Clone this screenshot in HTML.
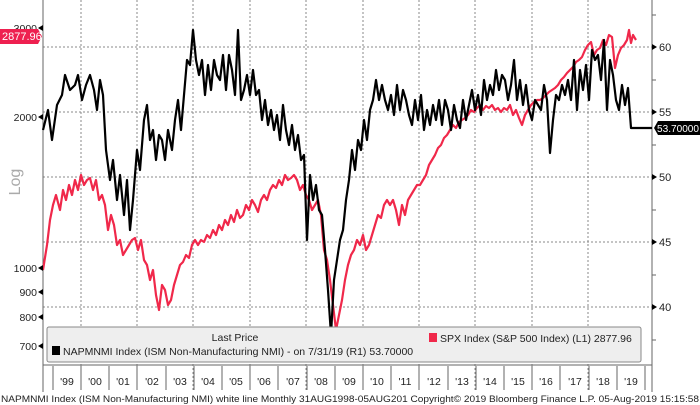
<!DOCTYPE html>
<html><head><meta charset="utf-8"><style>
body{margin:0;background:#fff;}
svg{display:block;font-family:"Liberation Sans",sans-serif;}
</style></head><body>
<svg width="700" height="405" viewBox="0 0 700 405" xmlns="http://www.w3.org/2000/svg">
<rect width="700" height="405" fill="#fff"/>
<g stroke="#888" stroke-width="1" stroke-dasharray="2,2" fill="none">
<line x1="43" y1="47" x2="652" y2="47"/><line x1="43" y1="112" x2="652" y2="112"/>
<line x1="43" y1="177" x2="652" y2="177"/><line x1="43" y1="242" x2="652" y2="242"/>
<line x1="43" y1="307" x2="652" y2="307"/>
<line x1="81" y1="0" x2="81" y2="392"/><line x1="137" y1="0" x2="137" y2="392"/>
<line x1="193" y1="0" x2="193" y2="392"/><line x1="250" y1="0" x2="250" y2="392"/>
<line x1="306" y1="0" x2="306" y2="392"/><line x1="363" y1="0" x2="363" y2="392"/>
<line x1="419" y1="0" x2="419" y2="392"/><line x1="475" y1="0" x2="475" y2="392"/>
<line x1="532" y1="0" x2="532" y2="392"/><line x1="588" y1="0" x2="588" y2="392"/>
</g>
<line x1="43" y1="0" x2="43" y2="392" stroke="#666"/>
<line x1="652" y1="0" x2="652" y2="392" stroke="#666"/>
<polyline fill="none" stroke="#f0284a" stroke-width="2.2" stroke-linejoin="round" points="43,270 47,245 50,220 53,205 56,195 60,210 63,190 66,200 69,185 72,195 75,180 78,190 81,175 84,185 87,180 90,178 93,190 96,180 99,200 102,195 105,205 108,230 111,215 114,225 117,245 120,240 123,255 126,250 129,245 132,240 135,238 138,250 141,240 144,260 147,265 150,280 153,270 156,295 159,310 162,285 165,290 168,305 171,300 174,285 177,275 180,265 183,262 186,255 189,258 192,245 195,240 198,245 201,240 204,242 207,235 210,238 213,230 216,235 219,225 222,230 225,220 228,225 231,215 234,222 237,210 240,218 243,215 246,205 249,210 252,200 255,205 258,212 261,200 264,195 267,200 270,190 273,185 276,188 279,180 282,185 285,175 288,180 291,178 294,175 297,180 300,190 303,185 306,195 309,200 312,210 315,205 318,200 321,215 324,250 327,260 330,280 333,305 336,330 339,315 342,300 345,280 348,265 351,255 354,250 357,240 360,245 363,235 366,250 369,245 372,235 375,225 378,215 381,218 384,205 387,200 390,205 393,200 396,210 399,225 402,205 405,215 408,200 411,195 414,190 417,185 420,185 423,180 426,175 429,165 432,160 435,155 438,148 441,145 444,138 447,135 450,130 453,125 456,128 459,122 462,120 465,118 468,115 471,110 474,112 477,108 480,105 483,110 486,106 489,108 492,105 495,110 498,108 501,112 504,108 507,110 510,105 513,115 516,110 519,118 522,125 525,115 528,110 531,105 534,102 537,100 540,100 543,98 546,95 549,92 552,90 555,88 558,85 561,80 564,77 567,73 570,70 573,67 576,62 579,60 582,57 585,50 588,45 591,42 594,55 597,50 600,48 603,40 606,45 609,35 612,37 615,68 618,55 621,48 624,45 627,40 629,30 631,43 633,35 636,40"/>
<polyline fill="none" stroke="#000" stroke-width="2.2" stroke-linejoin="round" points="43,130 48,110 52,140 57,105 62,95 65,75 70,90 75,85 78,75 82,100 86,85 90,75 94,90 97,110 100,80 103,95 106,150 110,180 113,160 117,200 120,175 124,215 127,180 130,230 133,200 137,150 140,170 144,120 147,105 150,140 153,130 156,160 159,135 162,140 165,160 168,130 172,150 175,120 178,100 181,130 184,95 187,60 190,65 193,30 196,60 199,75 202,60 205,95 208,65 211,90 214,60 217,75 220,80 223,55 226,90 229,55 232,70 235,95 238,30 241,100 244,90 247,75 250,95 253,70 256,95 259,90 262,120 265,100 268,125 271,110 274,130 277,115 280,140 283,105 286,130 289,145 292,125 295,150 298,135 301,160 304,155 307,240 310,175 313,200 316,185 319,210 322,215 325,250 328,290 331,335 334,280 337,260 340,240 343,230 346,200 349,180 352,150 355,170 358,140 361,150 364,120 367,140 370,110 373,100 376,80 379,100 382,85 385,100 388,110 391,95 394,115 397,85 400,110 403,90 406,100 409,115 412,125 415,100 418,120 421,95 424,130 427,110 430,125 433,105 436,120 439,100 442,125 445,100 448,110 451,130 454,105 457,120 460,128 463,100 466,120 469,105 472,90 475,110 478,95 481,115 484,80 487,100 490,85 493,95 496,70 499,90 502,75 505,80 508,100 511,85 514,60 517,100 520,80 523,105 526,85 529,110 532,120 535,100 538,105 541,110 544,85 547,100 550,153 553,120 556,95 559,100 562,85 565,95 568,80 571,100 574,60 577,110 580,70 583,90 586,65 589,100 592,50 595,60 598,55 601,80 604,40 607,110 610,60 613,75 616,100 619,110 622,85 625,105 628,88 631,128 652,128"/>
<g font-size="10.5" fill="#222" text-anchor="end">
<text x="37" y="32">3000</text><text x="37" y="121">2000</text><text x="37" y="272">1000</text>
<text x="37" y="296">900</text><text x="37" y="321">800</text><text x="37" y="350">700</text>
</g>
<g fill="#000"><path d="M38,28 l5,-3 v6z"/><path d="M38,117 l5,-3 v6z"/><path d="M38,268 l5,-3 v6z"/><path d="M38,292 l5,-3 v6z"/><path d="M38,317 l5,-3 v6z"/><path d="M38,346 l5,-3 v6z"/>
<path d="M657,47 l-5,-3 v6z"/><path d="M657,112 l-5,-3 v6z"/><path d="M657,177 l-5,-3 v6z"/><path d="M657,242 l-5,-3 v6z"/><path d="M657,307 l-5,-3 v6z"/></g>
<g font-size="11" fill="#222">
<text x="659" y="51">60</text><text x="659" y="116">55</text><text x="659" y="181">50</text><text x="659" y="246">45</text><text x="659" y="311">40</text>
</g>
<g stroke="#666"><line x1="652" y1="15" x2="656" y2="15"/><line x1="652" y1="80" x2="656" y2="80"/><line x1="652" y1="145" x2="656" y2="145"/><line x1="652" y1="210" x2="656" y2="210"/><line x1="652" y1="275" x2="656" y2="275"/><line x1="652" y1="340" x2="656" y2="340"/></g>
<text x="20" y="182" font-size="16" fill="#aaa" transform="rotate(-90 20 182)" text-anchor="middle">Log</text>
<path d="M0,29 h38 l4,7.5 l-4,7.5 h-38z" fill="#ee2050"/>
<text x="2" y="40" font-size="11" fill="#fff">2877.96</text>
<path d="M658,121 h42 v14 h-42 l-4,-7z" fill="#000"/>
<text x="657" y="132" font-size="10" fill="#fff" textLength="42" lengthAdjust="spacingAndGlyphs">53.70000</text>
<rect x="47" y="327" width="594" height="35" fill="#eeeeee" stroke="#888" rx="2"/>
<text x="235" y="341" font-size="10.5" fill="#222" text-anchor="middle">Last Price</text>
<rect x="52" y="346" width="8" height="9" fill="#000"/>
<text x="63" y="355" font-size="10.5" fill="#222">NAPMNMI Index (ISM Non-Manufacturing NMI) -  on 7/31/19  (R1) 53.70000</text>
<rect x="429" y="333" width="8" height="9" fill="#f0284a"/>
<text x="440" y="342" font-size="10.5" fill="#222">SPX Index (S&amp;P 500 Index)  (L1) 2877.96</text>
<line x1="43" y1="365" x2="652" y2="365" stroke="#666"/>
<g stroke="#666">
<line x1="53" y1="366" x2="53" y2="390"/><line x1="81" y1="366" x2="81" y2="390"/><line x1="109" y1="366" x2="109" y2="390"/><line x1="137" y1="366" x2="137" y2="390"/><line x1="166" y1="366" x2="166" y2="390"/><line x1="194" y1="366" x2="194" y2="390"/><line x1="222" y1="366" x2="222" y2="390"/><line x1="250" y1="366" x2="250" y2="390"/><line x1="278" y1="366" x2="278" y2="390"/><line x1="307" y1="366" x2="307" y2="390"/><line x1="335" y1="366" x2="335" y2="390"/><line x1="363" y1="366" x2="363" y2="390"/><line x1="391" y1="366" x2="391" y2="390"/><line x1="419" y1="366" x2="419" y2="390"/><line x1="448" y1="366" x2="448" y2="390"/><line x1="476" y1="366" x2="476" y2="390"/><line x1="504" y1="366" x2="504" y2="390"/><line x1="532" y1="366" x2="532" y2="390"/><line x1="560" y1="366" x2="560" y2="390"/><line x1="589" y1="366" x2="589" y2="390"/><line x1="617" y1="366" x2="617" y2="390"/><line x1="645" y1="366" x2="645" y2="390"/>
</g>
<g font-size="10.5" fill="#222" text-anchor="middle">
<text x="67" y="385">'99</text><text x="95" y="385">'00</text><text x="123" y="385">'01</text><text x="152" y="385">'02</text><text x="180" y="385">'03</text><text x="208" y="385">'04</text><text x="236" y="385">'05</text><text x="264" y="385">'06</text><text x="293" y="385">'07</text><text x="321" y="385">'08</text><text x="349" y="385">'09</text><text x="377" y="385">'10</text><text x="405" y="385">'11</text><text x="434" y="385">'12</text><text x="462" y="385">'13</text><text x="490" y="385">'14</text><text x="518" y="385">'15</text><text x="546" y="385">'16</text><text x="575" y="385">'17</text><text x="603" y="385">'18</text><text x="631" y="385">'19</text>
</g>
<text x="1" y="402" font-size="9.6" fill="#222" textLength="698" lengthAdjust="spacingAndGlyphs">NAPMNMI Index (ISM Non-Manufacturing NMI) white line  Monthly 31AUG1998-05AUG201  Copyright© 2019 Bloomberg Finance L.P.   05-Aug-2019 15:15:58</text>
</svg>
</body></html>
